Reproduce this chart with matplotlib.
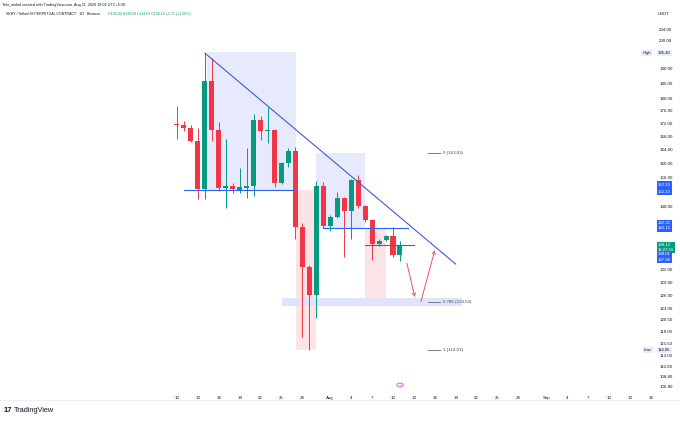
import matplotlib
matplotlib.use('Agg')
import matplotlib.pyplot as plt
import matplotlib.dates as mdates
import pandas as pd
from matplotlib.patches import Rectangle, FancyArrowPatch
from matplotlib.ticker import NullLocator, FixedLocator, FixedFormatter

plt.rcParams['font.family'] = ['Liberation Sans', 'DejaVu Sans']

# ---------------- data ----------------
dates = pd.date_range('2026-07-10', '2026-08-11', freq='D')
opens  = [172.0, 171.5, 170.6, 166.6, 152.7, 185.7, 169.9, 153.0, 153.5, 152.4, 153.0,
          153.5, 173.1, 169.6, 169.9, 154.4, 160.1, 163.6, 142.5, 132.6, 126.0, 153.5,
          142.8, 145.1, 150.2, 146.8, 155.2, 148.1, 144.4, 138.2, 139.2, 140.2, 135.42]
highs  = [177.4, 172.7, 171.5, 170.6, 195.4, 193.6, 172.4, 167.2, 154.4, 158.6, 164.5,
          174.9, 174.3, 177.2, 170.3, 160.4, 164.5, 164.8, 143.6, 133.0, 154.9, 154.7,
          145.6, 151.9, 150.5, 155.5, 156.6, 148.3, 144.6, 139.5, 140.6, 142.5, 139.09]
lows   = [167.2, 169.6, 166.3, 150.0, 150.0, 166.6, 152.2, 147.5, 151.6, 151.6, 150.2,
          150.8, 166.9, 166.0, 153.3, 154.1, 158.9, 139.5, 116.8, 114.06, 120.9, 142.3,
          141.5, 144.8, 135.0, 139.5, 147.5, 143.8, 134.3, 137.8, 139.0, 135.0, 134.01]
closes = [171.6, 170.6, 166.6, 152.7, 185.7, 169.9, 153.0, 153.5, 152.7, 153.3, 153.6,
          173.1, 169.6, 170.1, 154.4, 160.1, 163.6, 142.5, 132.6, 126.0, 153.5, 142.8,
          145.1, 150.2, 146.8, 155.2, 148.1, 144.4, 138.2, 139.0, 140.2, 135.4, 138.12]

price_ticks = [204.0, 200.0, 190.0, 185.0, 180.0, 176.0, 172.0, 168.0, 164.0, 160.0, 156.0,
               148.0, 132.0, 129.0, 126.0, 123.0, 120.5, 118.0, 115.5, 113.0, 110.8, 108.8, 106.8]
date_ticks = ['2026-07-10', '2026-07-13', '2026-07-16', '2026-07-19', '2026-07-22', '2026-07-25',
              '2026-07-28', '2026-08-01', '2026-08-04', '2026-08-07', '2026-08-10', '2026-08-13',
              '2026-08-16', '2026-08-19', '2026-08-22', '2026-08-25', '2026-08-28', '2026-09-01',
              '2026-09-04', '2026-09-07', '2026-09-10', '2026-09-13', '2026-09-16']
date_labels = ['10', '13', '16', '19', '22', '25', '28', 'Aug', '4', '7', '10', '13', '16', '19',
               '22', '25', '28', 'Sep', '4', '7', '10', '13', '16']

fib_levels = ['0', '0.786', '1']
fib_prices = [163.03, 124.50, 114.01]

high_price = 195.40
low_price = 114.06
last_price = 138.12

# drawings (date, price anchors)
trend_pts = [('2026-07-14 00:00', 195.4), ('2026-08-19 00:00', 133.3)]
hlines = [('2026-07-11 00:00', '2026-07-26 20:00', 152.33),
          ('2026-07-30 22:00', '2026-08-12 02:00', 142.31),
          ('2026-08-06 00:00', '2026-08-13 00:00', 138.01)]
blue_boxes = [('2026-07-14 07:00', '2026-07-27 02:00', 152.33, 195.75),
              ('2026-07-29 22:00', '2026-08-06 00:00', 142.31, 163.03)]
pink_boxes = [('2026-07-27 02:00', '2026-07-29 22:00', 114.06, 152.33),
              ('2026-08-06 00:00', '2026-08-09 00:00', 124.50, 142.31)]
zone_box = ('2026-07-25 02:00', '2026-08-19 22:00', 123.5, 125.3)
arrows = [(('2026-08-12 00:00', 133.5), ('2026-08-13 03:00', 125.6)),
          (('2026-08-14 00:00', 124.5), ('2026-08-16 00:00', 136.7))]

# ---------------- figure ----------------
W, H = 680, 421
fig = plt.figure(figsize=(W / 100, H / 100), dpi=100)
fig.patch.set_facecolor('white')
ax_l, ax_r, ax_t, ax_b = 0, 655, 20, 390
ax = fig.add_axes([ax_l / W, (H - ax_b) / H, (ax_r - ax_l) / W, (ax_b - ax_t) / H])
ax.set_facecolor('white')
ax.set_yscale('log')

x = mdates.date2num(dates)
d0 = mdates.datestr2num('2026-07-10')
ax.set_xlim(d0 - 25.4, d0 + 68.6)
ax.set_ylim(106.1, 207.5)

def dn(s):
    return mdates.datestr2num(s)

GREEN = '#089981'
RED = '#f23645'
BLUE = '#2962ff'

# shaded boxes
for a, b, lo, hi in blue_boxes:
    ax.add_patch(Rectangle((dn(a), lo), dn(b) - dn(a), hi - lo, facecolor='#e6eafc',
                           edgecolor='none', zorder=0))
for a, b, lo, hi in pink_boxes:
    ax.add_patch(Rectangle((dn(a), lo), dn(b) - dn(a), hi - lo, facecolor='#fde3e5',
                           edgecolor='none', zorder=0))
a, b, lo, hi = zone_box
ax.add_patch(Rectangle((dn(a), lo), dn(b) - dn(a), hi - lo, facecolor='#dfe4fa',
                       edgecolor='none', zorder=0))

# candles
for xi, o, h, l, c in zip(x, opens, highs, lows, closes):
    col = GREEN if c >= o else RED
    ax.vlines(xi, l, h, color=col, linewidth=0.7, zorder=2)
    lo_, hi_ = min(o, c), max(o, c)
    ax.bar(xi, hi_ - lo_, bottom=lo_, width=0.72, color=col, edgecolor='none', zorder=3)

# horizontal lines
for a, b, p in hlines:
    ax.plot([dn(a), dn(b)], [p, p], color=BLUE, linewidth=0.8, zorder=4)

# trend line
ax.plot([dn(trend_pts[0][0]), dn(trend_pts[1][0])], [trend_pts[0][1], trend_pts[1][1]],
        color='#3f5bd8', linewidth=0.8, zorder=4)

# arrows
for (s, e) in arrows:
    arr = FancyArrowPatch((dn(s[0]), s[1]), (dn(e[0]), e[1]), arrowstyle='->,head_length=2.2,head_width=1.2',
                          color='#f0505c', linewidth=0.7, zorder=5, shrinkA=0, shrinkB=0)
    ax.add_patch(arr)

# fib levels
fx0, fx1, ftx = dn('2026-08-15 00:00'), dn('2026-08-16 17:00'), dn('2026-08-17 05:00')
for lvl, p in zip(fib_levels, fib_prices):
    ax.plot([fx0, fx1], [p, p], color='#787b86', linewidth=0.7, zorder=4)
    ax.text(ftx, p, f'{lvl} ({p:.2f})', fontsize=3.2, color='#434651', va='center', ha='left')

# axes styling
for s in ax.spines.values():
    s.set_visible(False)
ax.yaxis.tick_right()
ax.yaxis.set_major_locator(FixedLocator(price_ticks))
ax.yaxis.set_major_formatter(FixedFormatter([f'{p:.2f}' for p in price_ticks]))
ax.yaxis.set_minor_locator(NullLocator())
ax.xaxis.set_major_locator(FixedLocator([dn(d) for d in date_ticks]))
ax.xaxis.set_major_formatter(FixedFormatter(date_labels))
ax.xaxis.set_minor_locator(NullLocator())
ax.tick_params(axis='both', length=0, labelsize=3.2, labelcolor='#131722')
ax.tick_params(axis='y', pad=3)
ax.tick_params(axis='x', pad=4)
ax.grid(False)

# right-axis special labels
def axlabel(p, txt, fc, tc, dy=0, fs=3.1):
    ax.annotate(txt, xy=(1, p), xycoords=('axes fraction', 'data'), xytext=(2.2, dy),
                textcoords='offset points', fontsize=fs, color=tc, va='center', ha='left',
                bbox=dict(boxstyle='square,pad=0.3', fc=fc, ec='none'), zorder=10,
                annotation_clip=False)

axlabel(high_price, f'{high_price:.2f}', '#e8edfb', '#131722')
ax.annotate('High', xy=(1, high_price), xycoords=('axes fraction', 'data'), xytext=(-9, 0),
            textcoords='offset points', fontsize=3.1, color='#131722', va='center', ha='left',
            bbox=dict(boxstyle='square,pad=0.3', fc='#e8edfb', ec='none'), annotation_clip=False)
axlabel(low_price, f'{low_price:.2f}', '#e8edfb', '#131722')
ax.annotate('Low', xy=(1, low_price), xycoords=('axes fraction', 'data'), xytext=(-8, 0),
            textcoords='offset points', fontsize=3.1, color='#131722', va='center', ha='left',
            bbox=dict(boxstyle='square,pad=0.3', fc='#e8edfb', ec='none'), annotation_clip=False)
axlabel(hlines[0][2], '152.33', BLUE, 'white', dy=4.3)
axlabel(hlines[0][2], '152.33', BLUE, 'white', dy=-0.8)
axlabel(hlines[1][2], '142.31', BLUE, 'white', dy=3.6)
axlabel(hlines[1][2], '142.12', BLUE, 'white', dy=-0.2)
axlabel(last_price, '138.12\n11:27:31', GREEN, 'white', dy=-2.0)
axlabel(hlines[2][2], '138.01', BLUE, 'white', dy=-6.6)
axlabel(hlines[2][2], '137.96', BLUE, 'white', dy=-10.8)

# header
fig.text(2 / W, 1 - 5 / H, 'Teki_ambol created with TradingView.com, Aug 11, 2026 18:02 UTC+5:30',
         fontsize=2.7, color='#131722', va='center', ha='left')
fig.text(6 / W, 1 - 14 / H, 'SKHY / TetherUS PERPETUAL CONTRACT · 1D · Binance',
         fontsize=2.6, color='#131722', va='center', ha='left')
fig.text(108 / W, 1 - 14 / H, f'O{opens[-1]:.2f} H{highs[-1]:.2f} L{lows[-1]:.2f} C{closes[-1]:.2f} +2.71 (+2.00%)',
         fontsize=2.6, color=GREEN, va='center', ha='left')
fig.text(663 / W, 1 - 14 / H, 'USDT', fontsize=3.1, color='#131722', va='center', ha='center')

# event marker
fig.patches.append(matplotlib.patches.Circle((400 / W, 1 - 385 / H), 3.2 / W, transform=fig.transFigure,
                                             facecolor='white', edgecolor='#b84dc9', linewidth=0.6))
fig.text(400 / W, 1 - 385 / H, '+', fontsize=3, color='#b84dc9', ha='center', va='center')

# bottom separator + logo
fig.add_artist(plt.Line2D([0, 1], [1 - 400 / H, 1 - 400 / H], color='#eceef2', linewidth=0.6))
fig.text(4 / W, 1 - 410 / H, '17', fontsize=5.5, fontweight='bold', color='#131722', va='center', ha='left')
fig.text(14 / W, 1 - 410 / H, 'TradingView', fontsize=5.3, color='#131722', va='center', ha='left')

fig.savefig('out.png', dpi=100, facecolor='white')
